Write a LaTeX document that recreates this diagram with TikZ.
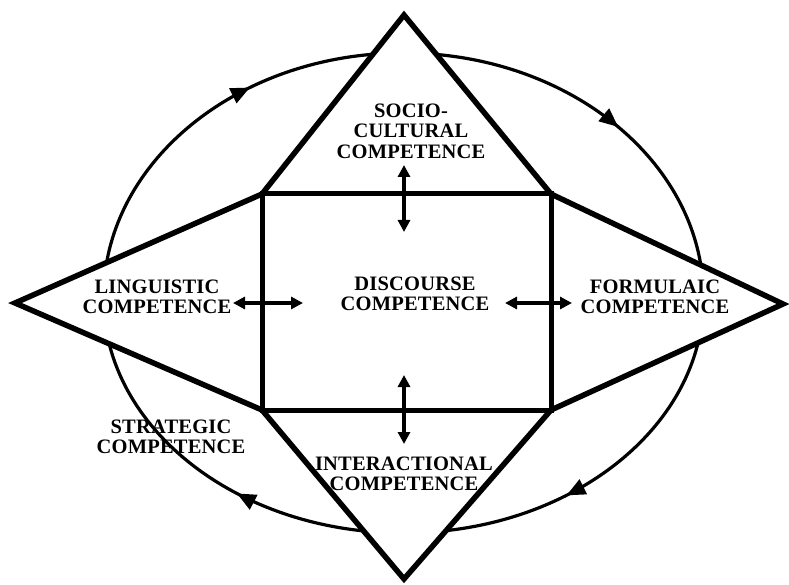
\documentclass[tikz,border=0pt]{standalone}
\usepackage{fontspec}
\setmainfont{Liberation Serif}
\usetikzlibrary{arrows.meta,decorations.markings}
\begin{document}
\begin{tikzpicture}[x=1pt,y=-1pt,
  lbl/.style={font=\fontsize{20.5}{20.5}\selectfont\bfseries\addfontfeature{LetterSpace=1}, align=center, inner sep=0pt},
  frame/.style={line width=5.5pt, line join=miter},
  boxline/.style={line width=5pt},
  ring/.style={line width=3.2pt},
  dbl/.style={line width=3.5pt, {Triangle[length=12pt,width=12pt]}-{Triangle[length=12pt,width=12pt]}},
  ringarrow/.style={postaction={decorate}, decoration={markings, mark=at position #1 with {\arrow{Triangle[length=19pt,width=16pt]}}}}
]
\useasboundingbox (0,0) rectangle (789,585);
% ellipse points
\coordinate (eL) at (103.5,298);
\coordinate (eT) at (403.5,53);
\coordinate (eR) at (703.5,298);
\coordinate (eB) at (403.5,533);
% star and square corners
\coordinate (pL) at (15,303);
\coordinate (pT) at (404,15);
\coordinate (pR) at (783,304);
\coordinate (pB) at (404,579);
\coordinate (sTL) at (262,194);
\coordinate (sTR) at (551,194);
\coordinate (sBR) at (551,410);
\coordinate (sBL) at (262,410);
% ring arcs
\draw[ring, ringarrow=0.63] (eL) .. controls (103.5,162.7) and (237.8,53) .. (eT);
\draw[ring, ringarrow=0.54] (eT) .. controls (569.2,53) and (703.5,162.7) .. (eR);
\draw[ring, ringarrow=0.6] (eR) .. controls (703.5,427.8) and (569.2,533) .. (eB);
\draw[ring, ringarrow=0.41] (eB) .. controls (237.8,533) and (103.5,427.8) .. (eL);
% star
\fill[white] (pL) -- (sTL) -- (pT) -- (sTR) -- (pR) -- (sBR) -- (pB) -- (sBL) -- cycle;
\draw[frame] (pL) -- (sTL) -- (pT) -- (sTR) -- (pR) -- (sBR) -- (pB) -- (sBL) -- cycle;
\draw[boxline] (sTL) rectangle (sBR);
% labels
\node[lbl] (soc) at (411,131) {SOCIO-\\CULTURAL\\COMPETENCE};
\node[lbl] (lin) at (157,297) {LINGUISTIC\\COMPETENCE};
\node[lbl] (dis) at (415,294) {DISCOURSE\\COMPETENCE};
\node[lbl] (for) at (655,297) {FORMULAIC\\COMPETENCE};
\node[lbl] (str) at (171,437) {STRATEGIC\\COMPETENCE};
\node[lbl] (int) at (404,474) {INTERACTIONAL\\COMPETENCE};
% double arrows
\coordinate (aT1) at (404,165);
\coordinate (aT2) at (404,232);
\coordinate (aB1) at (404,375);
\coordinate (aB2) at (404,444);
\coordinate (aL1) at (233,303);
\coordinate (aL2) at (303,303);
\coordinate (aR1) at (505,303);
\coordinate (aR2) at (572,303);
\draw[dbl] (aT1) -- (aT2);
\draw[dbl] (aB1) -- (aB2);
\draw[dbl] (aL1) -- (aL2);
\draw[dbl] (aR1) -- (aR2);
\end{tikzpicture}
\end{document}
